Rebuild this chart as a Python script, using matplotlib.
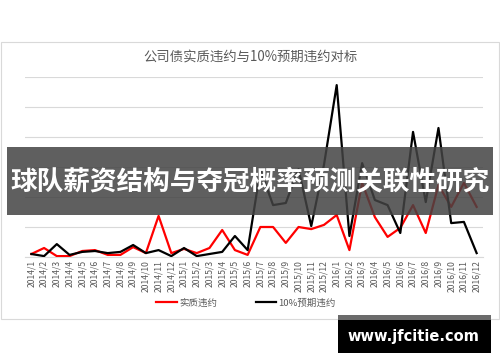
import matplotlib
matplotlib.use('Agg')
import matplotlib.pyplot as plt
from matplotlib.patches import Rectangle
from matplotlib.lines import Line2D

plt.rcParams['font.family'] = ['Noto Sans CJK SC', 'DejaVu Sans']

# months 2014/1 .. 2016/12
months = ['2014/%d' % m for m in range(1, 13)] + \
         ['2015/%d' % m for m in range(1, 13)] + \
         ['2016/%d' % m for m in range(1, 13)]

# 实质违约 (red)
actual = [1.0, 3.0, 0.3, 0.3, 2.0, 2.3, 0.7, 0.7, 3.3, 1.3, 13.7, 1.3,
          2.7, 1.3, 3.0, 9.0, 2.3, 0.7, 10.0, 10.0, 4.7, 10.0, 9.3, 10.7,
          14.0, 2.3, 24.7, 13.3, 6.7, 9.7, 17.3, 8.0, 24.0, 16.7, 24.7, 16.7]

# 10%预期违约 (black)
expected = [1.0, 0.3, 4.3, 0.7, 1.7, 2.0, 1.3, 1.7, 4.0, 1.3, 2.3, 0.3,
            3.0, 0.3, 1.0, 1.7, 7.0, 2.3, 29.0, 17.3, 18.0, 29.3, 10.3, 30.7,
            57.3, 7.0, 31.3, 19.0, 17.3, 8.0, 41.7, 18.3, 43.0, 11.3, 11.7, 1.3]

title = '公司债实质违约与10%预期违约对标'
banner = '球队薪资结构与夺冠概率预测关联性研究'
watermark = 'www.jfcitie.com'

fig = plt.figure(figsize=(5, 3.62), dpi=100)

# chart frame
fig.patches.append(Rectangle((0.001, 1 - 319 / 362), 0.997, (319 - 41.5) / 362,
                             transform=fig.transFigure, facecolor='none',
                             edgecolor='#d9d9d9', linewidth=0.8, zorder=-1))

ax = fig.add_axes([0.05, 1 - 257 / 362, 0.916, 180 / 362])
x = list(range(len(months)))
ax.plot(x, actual, color='#ff0000', linewidth=1.6, label='实质违约', zorder=3)
ax.plot(x, expected, color='#000000', linewidth=1.6, label='10%预期违约', zorder=4)
ax.set_xlim(-0.5, len(months) - 0.5)
ax.set_ylim(0, 60)
ax.set_yticks(range(0, 61, 10))
ax.grid(axis='y', color='#d9d9d9', linewidth=0.8)
ax.set_axisbelow(True)
ax.set_xticks(x)
ax.set_xticklabels(months, rotation=90, fontsize=6.2, color='#595959')
ax.tick_params(axis='x', length=0, pad=2)
ax.tick_params(axis='y', length=0, labelleft=False)
for s in ['top', 'right', 'left']:
    ax.spines[s].set_visible(False)
ax.spines['bottom'].set_color('#d9d9d9')
ax.spines['bottom'].set_linewidth(0.8)
ax.patch.set_alpha(0)

fig.text(0.5, 1 - 57 / 362, title, ha='center', va='center',
         fontsize=9.6, color='#595959')

handles = [Line2D([], [], color='#ff0000', linewidth=1.6),
           Line2D([], [], color='#000000', linewidth=1.6)]
fig.legend(handles, ['实质违约', '10%预期违约'], loc='center',
           bbox_to_anchor=(0.492, 1 - 303 / 362), ncol=2, frameon=False,
           fontsize=6.8, handlelength=2.2, handletextpad=0.2,
           columnspacing=4.1, labelcolor='#595959')

# overlay banner
fig.patches.append(Rectangle((7 / 500, 1 - 215 / 362), 486 / 500, 68 / 362,
                             transform=fig.transFigure, facecolor='#434343',
                             alpha=0.85, edgecolor='none', zorder=10))
fig.text(0.5, 1 - 182 / 362, banner, ha='center', va='center',
         fontsize=19.2, fontweight='bold', color='white', zorder=11)

# watermark box
fig.patches.append(Rectangle((338 / 500, 1 - 353 / 362), 153 / 500, 33 / 362,
                             transform=fig.transFigure, facecolor='black',
                             edgecolor='none', zorder=10))
fig.patches.append(Rectangle((338 / 500, 1 - 320 / 362), 153 / 500, 5 / 362,
                             transform=fig.transFigure, facecolor='#6b6b6b',
                             edgecolor='none', zorder=10))
fig.text(413.5 / 500, 1 - 337 / 362, watermark, ha='center', va='center',
         fontsize=10.5, fontweight='bold', color='white',
         family='DejaVu Sans', zorder=11)

fig.savefig('out.png', dpi=100)
